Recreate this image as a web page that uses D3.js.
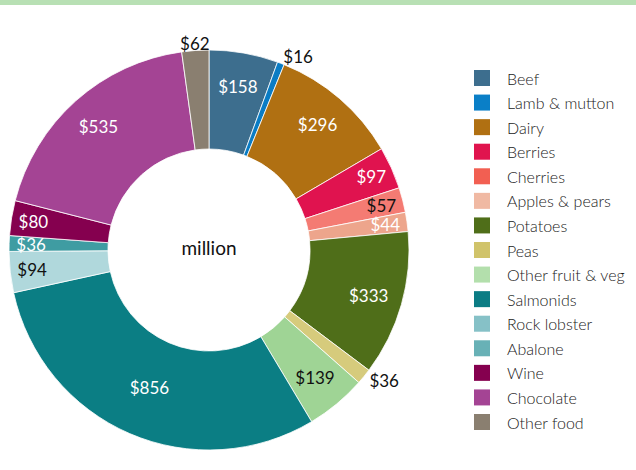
<!DOCTYPE html>
<html>
<head>
<meta charset="utf-8">
<script src="https://cdn.jsdelivr.net/npm/d3@7"></script>
<style>
  body { margin: 0; background: #fff; }
  svg { display: block; font-family: Lato, "Open Sans", sans-serif; }
  .slice-label { font-size: 17px; }
  .legend-label { font-size: 16px; font-weight: 300; fill: #1a1a1a; }
  .centre { font-size: 19px; }
</style>
</head>
<body>
<script>
// data
const categories = ['Beef', 'Lamb & mutton', 'Dairy', 'Berries', 'Cherries', 'Apples & pears', 'Potatoes', 'Peas',
  'Other fruit & veg', 'Salmonids', 'Rock lobster', 'Abalone', 'Wine', 'Chocolate', 'Other food'];
const values = [158, 16, 296, 97, 57, 44, 333, 36, 139, 856, 94, 36, 80, 535, 62];

// colours (slices are drawn a touch different from the legend swatches)
const sliceColors = ['#3d6e8e', '#0a7cc4', '#b07012', '#e0134f', '#f47b73', '#eda58c', '#4f6e19', '#d6cb7c',
  '#9fd495', '#0b7e84', '#b0d8dc', '#3f9ca2', '#85004f', '#a44494', '#8a7f70'];
const legendColors = ['#3d6e8e', '#0a7fc7', '#b07012', '#e0144e', '#f25f52', '#f0b9a3', '#4f6e19', '#d0c36a',
  '#b3dfac', '#0b7c84', '#86c1c7', '#68b1b6', '#85004f', '#a44494', '#8a7f70'];

const outsideLabels = ['Lamb & mutton', 'Peas', 'Other food'];
const darkLabels = ['Cherries', 'Other fruit & veg', 'Rock lobster'];

// svg params
const svgW = 636;
const svgH = 470;
const cx = 209;
const cy = 250;
const rOuter = 200;
const rInner = 101;

const svg = d3.select('body').append('svg').attr('width', svgW).attr('height', svgH);

// green strip at the top
svg.append('rect').attr('x', 0).attr('y', 0).attr('width', svgW).attr('height', 5).attr('fill', '#b8e0b4');

const colour = d3.scaleOrdinal().domain(categories).range(sliceColors);
const legendColour = d3.scaleOrdinal().domain(categories).range(legendColors);

const pie = d3.pie().sort(null).value((d) => d.value);
const arcs = pie(categories.map((c, i) => ({ name: c, value: values[i] })));

const arc = d3.arc().innerRadius(rInner).outerRadius(rOuter);

const g = svg.append('g').attr('transform', 'translate(' + cx + ',' + cy + ')');

g.selectAll('path')
  .data(arcs)
  .enter()
  .append('path')
  .attr('d', arc)
  .attr('fill', (d) => colour(d.data.name))
  .attr('stroke', '#fff')
  .attr('stroke-width', 0.8);

/*
  labels
*/
const labelRadius = (d) => {
  const deg = (d.endAngle - d.startAngle) * 180 / Math.PI;
  if (outsideLabels.includes(d.data.name)) return 207;
  if (deg > 90) return 150;
  if (deg > 15) return 166;
  return 178;
};

g.selectAll('text.slice-label')
  .data(arcs)
  .enter()
  .append('text')
  .attr('class', 'slice-label')
  .each(function (d) {
    const r = labelRadius(d);
    const a = (d.startAngle + d.endAngle) / 2;
    const outside = outsideLabels.includes(d.data.name);
    const s = Math.sin(a);
    d3.select(this)
      .attr('x', r * s)
      .attr('y', -r * Math.cos(a))
      .attr('text-anchor', outside ? (s > 0.3 ? 'start' : s < -0.3 ? 'end' : 'middle') : 'middle')
      .attr('fill', outside || darkLabels.includes(d.data.name) ? '#111' : '#fff');
  })
  .attr('dominant-baseline', 'central')
  .text((d) => '$' + d.value);

g.append('text')
  .attr('class', 'centre')
  .attr('x', 0)
  .attr('y', -3)
  .attr('text-anchor', 'middle')
  .attr('dominant-baseline', 'central')
  .attr('fill', '#111')
  .text('million');

/*
  legend
*/
const legendY = d3.scalePoint().domain(categories).range([ 78, 422 ]);

const legend = svg.append('g').attr('class', 'legend');
const item = legend.selectAll('g')
  .data(categories)
  .enter()
  .append('g')
  .attr('transform', (d) => 'translate(474,' + legendY(d) + ')');

item.append('rect')
  .attr('x', 0)
  .attr('y', -8)
  .attr('width', 16)
  .attr('height', 16)
  .attr('fill', (d) => legendColour(d));

item.append('text')
  .attr('class', 'legend-label')
  .attr('x', 33)
  .attr('y', 0)
  .attr('dominant-baseline', 'central')
  .text((d) => d);
</script>
</body>
</html>
